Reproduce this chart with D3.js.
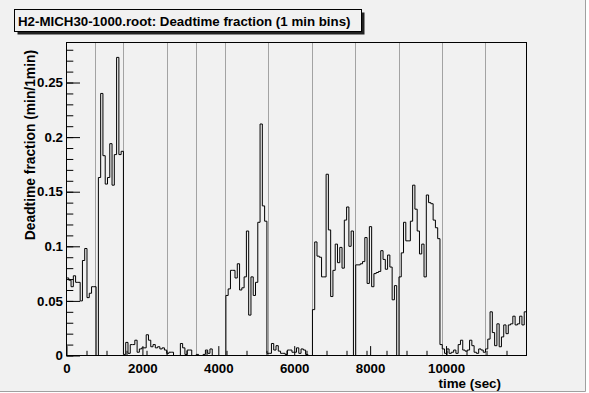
<!DOCTYPE html>
<html>
<head>
<meta charset="utf-8">
<script src="https://cdn.jsdelivr.net/npm/d3@7"></script>
<style>
  body { margin: 0; background: #ffffff; }
  svg { display: block; }
  text { font-family: "Liberation Sans", Arial, Helvetica, sans-serif; font-weight: bold; fill: #000; }
</style>
</head>
<body>
<svg id="chart" width="589" height="393"></svg>
<script>
// deadtime fraction per 1 min bin, starting at t = 0
const binWidth = 60
const deadtime = [
  0.071, 0.069, 0.063, 0.073, 0.067, 0.067, 0.050, 0.087, 0.098, 0.053, 0.057, 0.063, 0.063,
  0,
  0.163, 0.240, 0.183, 0.157, 0.163, 0.194, 0.156, 0.184, 0.273, 0.184, 0.187,
  0.001, 0.012, 0.002, 0.010, 0.010, 0.014, 0.003, 0.006, 0.007, 0.007, 0.019, 0.014, 0.008, 0.010, 0.007,
  0.008, 0.006, 0.007, 0.005, 0.002, 0.003, 0.003, 0, 0, 0, 0.011, 0.007, 0.001, 0.005, 0.005,
  0, 0, 0.001, 0, 0, 0.001, 0.005, 0.002, 0.006, 0, 0, 0, 0, 0, 0,
  0.055, 0.061, 0.078, 0.078, 0.071, 0.084, 0.060, 0.062, 0.072, 0.114, 0.037, 0.072, 0.055, 0.067,
  0.122, 0.212, 0.137, 0.123,
  0.002, 0.002, 0.011, 0.005, 0.009, 0.004, 0.002, 0.002, 0.001, 0.005, 0.005, 0.003, 0.003, 0.007,
  0.002, 0.006, 0.005, 0.001, 0, 0,
  0.042, 0.104, 0.091, 0.090, 0.072, 0.072, 0.166, 0.115, 0.054, 0.078, 0.102, 0.085, 0.099, 0.080,
  0.124, 0.136, 0.100, 0.114,
  0,
  0.083, 0.083, 0.084, 0.086, 0.108, 0.066, 0.118, 0.063, 0.075, 0.076, 0.077, 0.096, 0.088, 0.079,
  0.092, 0.081, 0.051, 0.064,
  0,
  0.072, 0.094, 0.122, 0.105, 0.105, 0.123, 0.156, 0.134, 0.114, 0.093, 0.102, 0.072, 0.147, 0.140,
  0.139, 0.124, 0.117, 0.107,
  0.010, 0.006, 0.002, 0.006, 0.002, 0.003, 0.005, 0.002, 0.010, 0.014, 0.005, 0.004, 0.005, 0.014,
  0.009, 0.003, 0.002, 0.006, 0.005, 0.003, 0.006, 0.015, 0.040, 0.021, 0.009, 0.029, 0.008, 0.017,
  0.028, 0.020, 0.028, 0.029, 0.036, 0.028, 0.029, 0.036, 0.028, 0.040
]
// run boundaries (sec), drawn as dotted lines
const runBoundaries = [750, 1500, 2650, 3420, 4170, 5320, 6470, 7610, 8750, 9900, 11030]
const xTickLabels = [0, 2000, 4000, 6000, 8000, 10000]
const yTickLabels = [0, 0.05, 0.1, 0.15, 0.2, 0.25]
const xMinorDivisions = 23
const yMinorStep = 0.01

const titleText = 'H2-MICH30-1000.root: Deadtime fraction (1 min bins)'
const xTitle = 'time (sec)'
const yTitle = 'Deadtime fraction (min/1min)'

const config = { left: 66.5, right: 526.5, top: 42.5, bottom: 355.5 }

const svg = d3.select('#chart')

/**
 * canvas background with the dark bevel on right/bottom
 */
function drawCanvas(svg){
    svg.append('rect')
        .attr('x', 0).attr('y', 0)
        .attr('width', 586).attr('height', 392)
        .attr('fill', '#f1f1f1')
    svg.append('path')
        .attr('d', 'M585.5,0V391.5H0')
        .attr('fill', 'none')
        .attr('stroke', '#a0a0a0')
}

function drawTitle(svg){
    const g = svg.append('g')
    g.append('rect')
        .attr('x', 17.5).attr('y', 12.5)
        .attr('width', 347).attr('height', 22)
        .attr('fill', '#222')
    g.append('rect')
        .attr('x', 14.5).attr('y', 9.5)
        .attr('width', 347).attr('height', 22)
        .attr('fill', '#f1f1f1')
        .attr('stroke', '#000')
    g.append('text')
        .attr('x', 18).attr('y', 26)
        .style('font-size', '13.3px')
        .text(titleText)
}

drawCanvas(svg)
drawTitle(svg)

const nBins = deadtime.length
const x = d3.scaleLinear()
    .domain([0, nBins * binWidth])
    .range([config.left, config.right])
const y = d3.scaleLinear()
    .domain([0, d3.max(deadtime) * 1.05])
    .range([config.bottom, config.top])

const g = svg.append('g')

// run boundaries, snapped to pixel so the dots stay sharp
g.append('g').attr('id', 'runs')
    .selectAll('line')
    .data(runBoundaries)
    .enter().append('line')
    .attr('x1', d => Math.round(x(d)) + 0.5).attr('x2', d => Math.round(x(d)) + 0.5)
    .attr('y1', config.top).attr('y2', config.bottom)
    .attr('stroke', '#555')
    .attr('stroke-dasharray', '1,1')

// histogram as a step outline
const pts = [[0, 0]]
deadtime.forEach(function(v, i){
    pts.push([i * binWidth, v])
    pts.push([(i + 1) * binWidth, v])
})
pts.push([nBins * binWidth, 0])

g.append('path')
    .attr('id', 'hist')
    .datum(pts)
    .attr('fill', 'none')
    .attr('stroke', '#000')
    .attr('stroke-width', 1)
    .attr('d', d3.line().x(d => x(d[0])).y(d => y(d[1])))

// y axis, ticks pointing into the frame
const yMinor = d3.range(0, y.domain()[1], yMinorStep)
g.append('g')
    .attr('transform', 'translate(' + config.left + ',0)')
    .call(d3.axisLeft(y).tickValues(yMinor).tickSize(-6.8).tickFormat(''))
g.append('g')
    .attr('id', 'yAxis')
    .attr('transform', 'translate(' + config.left + ',0)')
    .call(d3.axisLeft(y).tickValues(yTickLabels).tickSize(-13.5).tickPadding(3.5)
        .tickFormat(d => d === 0 ? '0' : String(+d.toFixed(2))))

// x axis, ticks pointing into the frame
const xMinor = d3.range(1, xMinorDivisions).map(i => nBins * binWidth * i / xMinorDivisions)
g.append('g')
    .attr('transform', 'translate(0,' + config.bottom + ')')
    .call(d3.axisBottom(x).tickValues(xMinor).tickSize(-4.7).tickFormat(''))
g.append('g')
    .attr('id', 'xAxis')
    .attr('transform', 'translate(0,' + config.bottom + ')')
    .call(d3.axisBottom(x).tickValues(xTickLabels).tickSize(-9.4).tickPadding(8)
        .tickFormat(d3.format('d')))

g.selectAll('.domain').remove()
g.selectAll('.tick line').attr('stroke', '#000')
g.selectAll('.tick text')
    .style('font-size', '13.3px')
    .style('font-family', '"Liberation Sans", Arial, sans-serif')
    .style('font-weight', 'bold')
    .attr('fill', '#000')

// frame
g.append('rect')
    .attr('x', config.left).attr('y', config.top)
    .attr('width', config.right - config.left)
    .attr('height', config.bottom - config.top)
    .attr('fill', 'none')
    .attr('stroke', '#000')

// axis titles
g.append('text')
    .attr('x', 501).attr('y', 388)
    .attr('text-anchor', 'end')
    .style('font-size', '13.4px')
    .text(xTitle)
g.append('text')
    .attr('transform', 'translate(35,50) rotate(-90)')
    .attr('text-anchor', 'end')
    .style('font-size', '13.8px')
    .text(yTitle)
</script>
</body>
</html>
